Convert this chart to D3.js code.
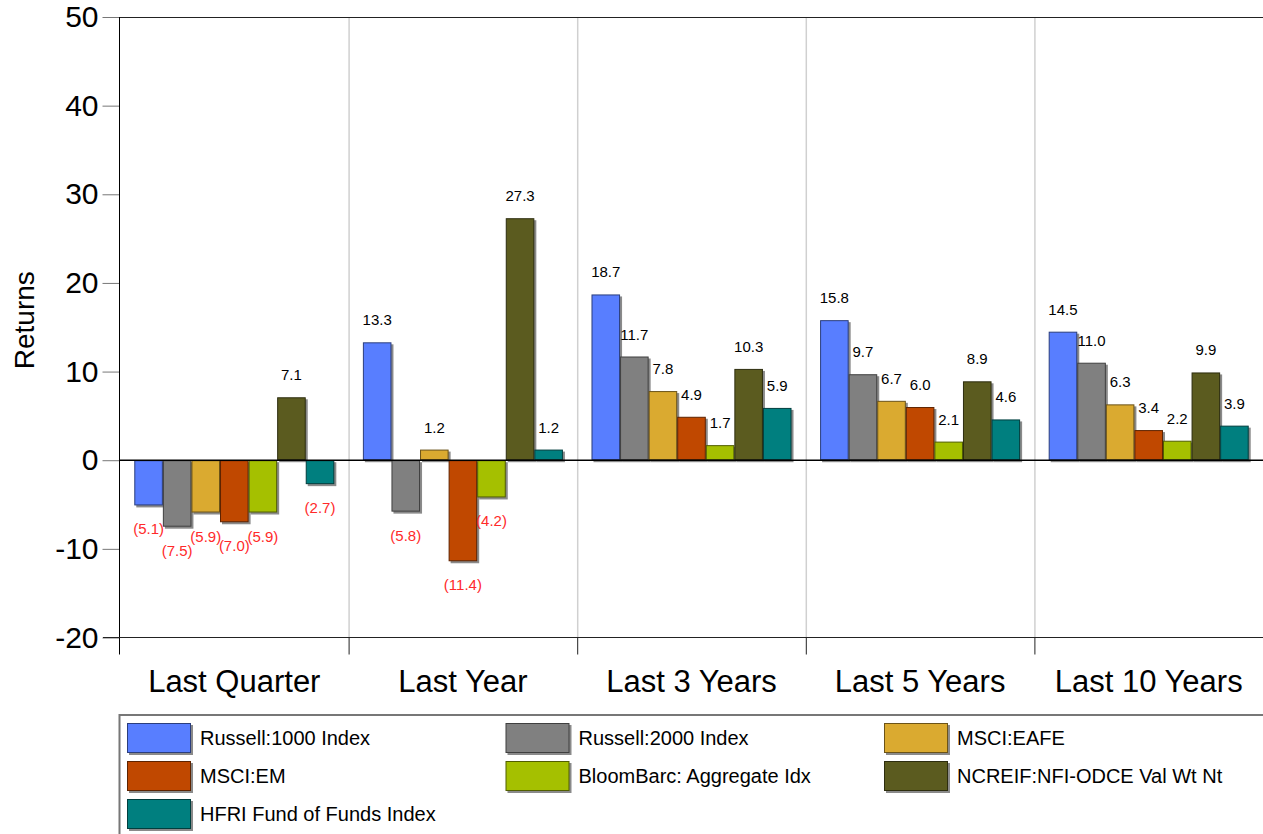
<!DOCTYPE html>
<html>
<head>
<meta charset="UTF-8">
<title>Returns</title>
<script src="https://d3js.org/d3.v7.min.js"></script>
<style>
  body { margin: 0; background: #fff; }
  svg text { font-family: Arial, "Liberation Sans", sans-serif; }
</style>
</head>
<body>
<div id="chart"></div>
<script>
const categories = ["Last Quarter", "Last Year", "Last 3 Years", "Last 5 Years", "Last 10 Years"];
const seriesNames = ["Russell:1000 Index", "Russell:2000 Index", "MSCI:EAFE", "MSCI:EM",
  "BloomBarc: Aggregate Idx", "NCREIF:NFI-ODCE Val Wt Nt", "HFRI Fund of Funds Index"];
const russell1000 = [-5.1, 13.3, 18.7, 15.8, 14.5];
const russell2000 = [-7.5, -5.8, 11.7, 9.7, 11.0];
const msciEafe = [-5.9, 1.2, 7.8, 6.7, 6.3];
const msciEm = [-7.0, -11.4, 4.9, 6.0, 3.4];
const bloomAgg = [-5.9, -4.2, 1.7, 2.1, 2.2];
const ncreif = [7.1, 27.3, 10.3, 8.9, 9.9];
const hfri = [-2.7, 1.2, 5.9, 4.6, 3.9];
const yTicks = [-20, -10, 0, 10, 20, 30, 40, 50];
const colors = ["#587eff", "#808080", "#daaa30", "#c04800", "#a5c000", "#5b5b1f", "#007f7f"];

const seriesValues = [russell1000, russell2000, msciEafe, msciEm, bloomAgg, ncreif, hfri];

const width = 1263, height = 834;
const plotLeft = 120, plotRight = 1263, plotTop = 17, plotBottom = 637.5;

const svg = d3.select("#chart").append("svg")
  .attr("width", width).attr("height", height);

const y = d3.scaleLinear().domain([-20, 50]).range([plotBottom, plotTop]);
const x0 = d3.scaleBand().domain(categories).range([plotLeft, plotRight]).padding(0);
const x1 = d3.scaleBand().domain(seriesNames).range([0, x0.bandwidth()])
  .paddingInner(0).paddingOuter(0.5);

// vertical separators between groups
svg.append("g").selectAll("line")
  .data(categories.slice(1))
  .join("line")
  .attr("x1", d => x0(d) + 0.5).attr("x2", d => x0(d) + 0.5)
  .attr("y1", plotTop).attr("y2", plotBottom)
  .attr("stroke", "#d0d0d0").attr("stroke-width", 1.5);

// top border
svg.append("line")
  .attr("x1", plotLeft).attr("x2", plotRight)
  .attr("y1", plotTop + 0.5).attr("y2", plotTop + 0.5)
  .attr("stroke", "#222");

// y axis
const yAxis = svg.append("g")
  .attr("transform", `translate(${plotLeft - 0.5},0)`)
  .call(d3.axisLeft(y).tickValues(yTicks).tickFormat(d => String(d))
    .tickSize(17).tickPadding(4).tickSizeOuter(0));
yAxis.select(".domain").remove();
yAxis.selectAll(".tick line").attr("stroke", "#777");
yAxis.selectAll(".tick text").attr("font-size", 30).attr("fill", "#000");
svg.append("line")
  .attr("x1", plotLeft - 0.5).attr("x2", plotLeft - 0.5)
  .attr("y1", plotTop).attr("y2", plotBottom + 17)
  .attr("stroke", "#000");

svg.append("text")
  .attr("transform", `translate(34,${(plotTop + plotBottom) / 2 - 7}) rotate(-90)`)
  .attr("text-anchor", "middle")
  .attr("font-size", 28)
  .text("Returns");

// bottom axis line and group ticks
svg.append("line")
  .attr("x1", plotLeft - 17).attr("x2", plotRight)
  .attr("y1", plotBottom).attr("y2", plotBottom)
  .attr("stroke", "#222");
svg.append("g").selectAll("line")
  .data(categories.slice(1))
  .join("line")
  .attr("x1", d => x0(d) + 0.5).attr("x2", d => x0(d) + 0.5)
  .attr("y1", plotBottom).attr("y2", plotBottom + 17)
  .attr("stroke", "#222");

svg.append("g").selectAll("text")
  .data(categories)
  .join("text")
  .attr("x", d => x0(d) + x0.bandwidth() / 2)
  .attr("y", 692)
  .attr("text-anchor", "middle")
  .attr("font-size", 31)
  .text(d => d);

// bars
const groups = svg.append("g").selectAll("g")
  .data(categories)
  .join("g")
  .attr("transform", d => `translate(${x0(d)},0)`);

const barData = (c, ci) => seriesNames.map((s, si) => ({ s, si, v: seriesValues[si][ci] }));

const bars = groups.selectAll("g.bar")
  .data((c, ci) => barData(c, ci))
  .join("g").attr("class", "bar");

bars.append("rect")
  .attr("x", d => x1(d.s) + 2)
  .attr("y", d => Math.min(y(d.v), y(0)) + 2)
  .attr("width", x1.bandwidth())
  .attr("height", d => Math.abs(y(d.v) - y(0)))
  .attr("fill", "#8a8a8a");

bars.append("rect")
  .attr("x", d => x1(d.s) + 0.5)
  .attr("y", d => Math.min(y(d.v), y(0)) + 0.5)
  .attr("width", x1.bandwidth() - 1)
  .attr("height", d => Math.max(0, Math.abs(y(d.v) - y(0)) - 1))
  .attr("fill", d => colors[d.si])
  .attr("stroke", d => d3.color(colors[d.si]).darker(2))
  .attr("stroke-width", 1);

bars.append("text")
  .attr("x", d => x1(d.s) + x1.bandwidth() / 2)
  .attr("y", d => d.v >= 0 ? y(d.v) - 17 : y(d.v) + 29)
  .attr("text-anchor", "middle")
  .attr("font-size", 15)
  .attr("fill", d => d.v >= 0 ? "#000" : "#ff2a2a")
  .text(d => d.v >= 0 ? d3.format(".1f")(d.v) : "(" + d3.format(".1f")(-d.v) + ")");

// zero line
svg.append("line")
  .attr("x1", plotLeft).attr("x2", plotRight)
  .attr("y1", y(0)).attr("y2", y(0))
  .attr("stroke", "#000").attr("stroke-width", 1.5);

// legend
const legend = svg.append("g");
legend.append("rect")
  .attr("x", 119.5).attr("y", 715)
  .attr("width", 1200).attr("height", 200)
  .attr("fill", "none").attr("stroke", "#777").attr("stroke-width", 2);

const colX = [127, 505.5, 884];
const items = legend.selectAll("g.item")
  .data(seriesNames)
  .join("g").attr("class", "item")
  .attr("transform", (d, i) => `translate(${colX[i % 3]},${723 + Math.floor(i / 3) * 38})`);

items.append("rect")
  .attr("x", 2).attr("y", 2).attr("width", 64).attr("height", 30)
  .attr("fill", "#8a8a8a");
items.append("rect")
  .attr("x", 0.5).attr("y", 0.5).attr("width", 63).attr("height", 29)
  .attr("fill", (d, i) => colors[i])
  .attr("stroke", (d, i) => d3.color(colors[i]).darker(2));
items.append("text")
  .attr("x", 73).attr("y", 22)
  .attr("font-size", 20)
  .text(d => d);
</script>
</body>
</html>
